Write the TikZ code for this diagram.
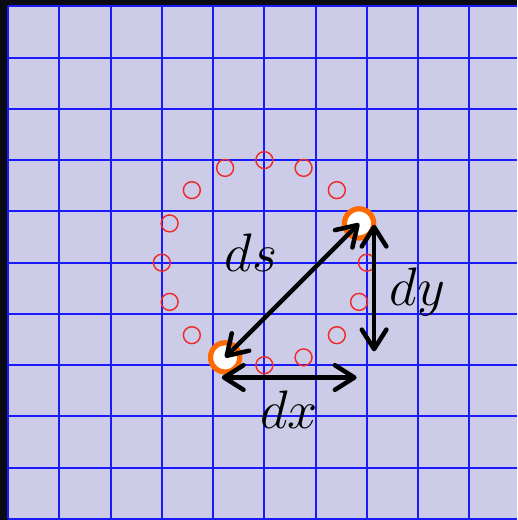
\documentclass[tikz,border=0pt]{standalone}
\usepackage{amsmath,amssymb}
\usepackage{xcolor}
\usepackage{tikz}
\usetikzlibrary{arrows.meta,positioning,calc}
\definecolor{frame}{HTML}{0A0A12}
\definecolor{paper}{HTML}{CCCCE8}
\definecolor{gridblue}{HTML}{1A1AFF}
\definecolor{orange2}{HTML}{FF6A00}
\definecolor{red2}{HTML}{F02828}

\begin{document}
\begin{tikzpicture}[
          lbl/.style={font=\huge,anchor=base,transform shape,scale=1.45},
          gridline/.style={draw=gridblue,line width=1.1pt},
          mark2/.style={circle,draw=red2,line width=0.8pt,minimum size=0.33cm,inner sep=0pt},
          endpt/.style={circle,draw=orange2,fill=white,line width=2.9pt,minimum size=0.57cm,inner sep=0pt},
          arr/.style={{Straight Barb[length=3.8mm,width=4.8mm,round]}-{Straight Barb[length=3.8mm,width=4.8mm,round]},line width=2.5pt},
      ]
        % background and grid
        \fill[frame] (-0.156,-0.014) rectangle (9.922,10.123);
        \fill[paper] (0,-0.014) rectangle (9.922,10);
        \draw[gridline] (0,0) grid (9.922,10);

        % sample points on the circle
        \foreach \a in {0,45,67.5,90,112.5,135,157.5,180,202.5,225,270,292.5,315,337.5}
          \node[mark2] (c\a) at ($(5,5)+(\a:2)$) {};
        \node[endpt] (s) at ($(5,5)+(247.5:2)$) {};
        \node[endpt] (e) at ($(5,5)+(22.5:2)$) {};

        \coordinate (dxl) at (4.17,2.76);
        \coordinate (dxr) at (6.80,2.76);
        \coordinate (dyt) at (7.14,5.74);
        \coordinate (dyb) at (7.14,3.27);

        \draw[arr] (s.center) -- (e.center);
        \draw[arr] (dxl) -- (dxr);
        \draw[arr] (dyt) -- (dyb);

        \node[lbl] (lds) at (4.74,4.83) {$ds$};
        \node[lbl] (ldx) at (5.48,1.77) {$dx$};
        \node[lbl] (ldy) at (7.99,4.16) {$dy$};
      \end{tikzpicture}
\end{document}
